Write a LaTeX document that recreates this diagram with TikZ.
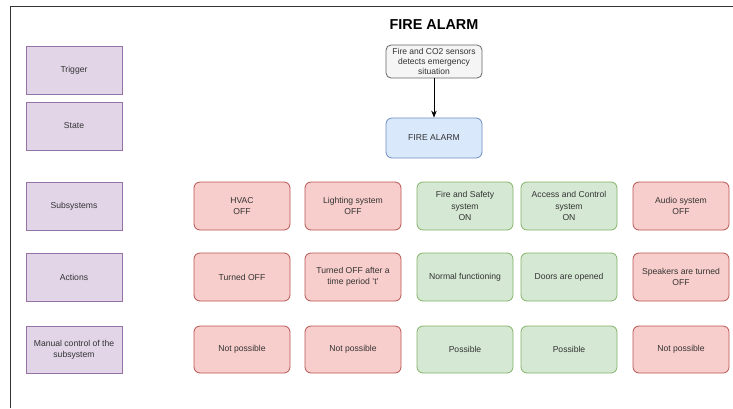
\documentclass[tikz,border=0pt]{standalone}
\usepackage{fontspec}
\setmainfont{Liberation Sans}
\usetikzlibrary{arrows.meta}
\definecolor{purplefill}{HTML}{E1D5E7}
\definecolor{purpleline}{HTML}{9673A6}
\definecolor{redfill}{HTML}{F8CECC}
\definecolor{redline}{HTML}{B85450}
\definecolor{greenfill}{HTML}{D5E8D4}
\definecolor{greenline}{HTML}{82B366}
\definecolor{bluefill}{HTML}{DAE8FC}
\definecolor{blueline}{HTML}{6C8EBF}
\definecolor{grayfill}{HTML}{F5F5F5}
\definecolor{grayline}{HTML}{666666}
\definecolor{textdark}{HTML}{333333}
\tikzset{
  base/.style={draw, line width=0.8pt, align=center, inner sep=1pt,
    font=\fontsize{8.6}{11.2}\selectfont, text=textdark,
    minimum width=96pt, minimum height=48pt},
  rowlabel/.style={base, fill=purplefill, draw=purpleline},
  offbox/.style={base, rounded corners=6pt, fill=redfill, draw=redline},
  onbox/.style={base, rounded corners=6pt, fill=greenfill, draw=greenline},
  statebox/.style={base, rounded corners=6pt, fill=bluefill, draw=blueline},
  sensorbox/.style={base, rounded corners=5pt, fill=grayfill, draw=grayline,
    minimum height=33pt, inner sep=0pt, font=\fontsize{8.5}{10}\selectfont},
  flow/.style={-{Stealth[length=7pt,width=5.5pt]}, line width=0.8pt, black},
}
\begin{document}
\begin{tikzpicture}[x=1pt, y=-1pt]
\useasboundingbox (0,0) rectangle (733,408);
% outer frame
\draw[line width=1.4pt, textdark] (10.5,408) -- (10.5,6.5) -- (733,6.5);

% title
\node (title) at (434,25) {\fontsize{14.4}{16}\selectfont\bfseries FIRE ALARM};

% row labels
\node[rowlabel] (trigger) at (74,70) {Trigger};
\node[rowlabel] (state) at (74,126) {State};
\node[rowlabel] (subsys) at (74,206) {Subsystems};
\node[rowlabel] (actions) at (74,277) {Actions};
\node[rowlabel, minimum height=47pt] (manual) at (74,349.5) {Manual control of the\\subsystem};

% trigger and state
\node[sensorbox] (sensor) at (434,61.5) {Fire and CO2 sensors\\detects emergency\\situation};
\node[statebox, minimum height=40pt] (alarm) at (434,138) {FIRE ALARM};
\draw[flow] (sensor) -- (alarm);

% subsystems
\node[offbox] (hvac) at (242,206) {HVAC\\OFF};
\node[offbox] (light) at (353,206) {Lighting system\\OFF};
\node[onbox] (safety) at (465,206) {Fire and Safety\\system\\ON};
\node[onbox] (access) at (569,206) {Access and Control\\system\\ON};
\node[offbox] (audio) at (681,206) {Audio system\\OFF};

% actions
\node[offbox] (hvacact) at (242,277) {Turned OFF};
\node[offbox] (lightact) at (353,277) {Turned OFF after a\\time period 't'};
\node[onbox] (safetyact) at (465,277) {Normal functioning};
\node[onbox] (accessact) at (569,277) {Doors are opened};
\node[offbox] (audioact) at (681,277) {Speakers are turned\\OFF};

% manual control
\node[offbox, minimum height=47pt] (hvacman) at (242,349.5) {Not possible};
\node[offbox, minimum height=47pt] (lightman) at (353,349.5) {Not possible};
\node[onbox, minimum height=47pt] (safetyman) at (465,349.5) {Possible};
\node[onbox, minimum height=47pt] (accessman) at (569,349.5) {Possible};
\node[offbox, minimum height=47pt] (audioman) at (681,349.5) {Not possible};
\end{tikzpicture}
\end{document}
